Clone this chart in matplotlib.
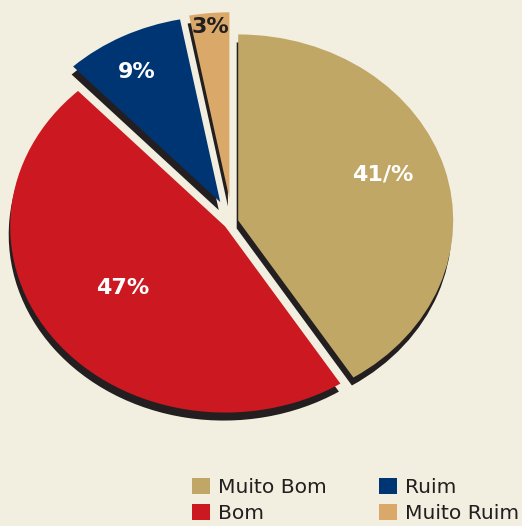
import matplotlib
matplotlib.use("Agg")
import matplotlib.pyplot as plt
import numpy as np

# Survey answers
categories = ["Muito Bom", "Bom", "Ruim", "Muito Ruim"]
shares = [41, 47, 9, 3]
value_labels = ["41/%", "47%", "9%", "3%"]

colors = ["#C1A766", "#CC1820", "#003574", "#DAA96A"]
label_colors = ["white", "white", "white", "#231F20"]
explode = [0.03, 0.04, 0.12, 0.128]
# where each value label sits inside its wedge
label_radius = [0.717, 0.578, 0.80, 0.925]
label_frac = [0.526, 0.482, 0.56, 0.5]

bg = "#F3EFE0"
shadow = "#231F20"

W, H = 522, 526
fig = plt.figure(figsize=(W / 100, H / 100), dpi=100, facecolor=bg)
ax = fig.add_axes([0, 0, 1, 1])
ax.set_facecolor(bg)

# pie centre and radii in pixels (slightly flattened ellipse)
cx, cy = 232, 222
rx, ry = 215, 186

# dark drop shadow: same pie shifted down / left
sdx, sdy = -1.5 / rx, -8 / ry
ax.pie(shares, colors=[shadow] * len(shares), explode=explode, startangle=90,
       counterclock=False, center=(sdx, sdy), wedgeprops=dict(linewidth=0))

wedges, _ = ax.pie(shares, colors=colors, explode=explode, startangle=90,
                   counterclock=False, wedgeprops=dict(linewidth=0))

for w, txt, r, f, c in zip(wedges, value_labels, label_radius, label_frac,
                           label_colors):
    ang = np.deg2rad(w.theta1 + f * (w.theta2 - w.theta1))
    x0, y0 = w.center
    ax.text(x0 + r * np.cos(ang), y0 + r * np.sin(ang), txt, color=c,
            fontsize=16, fontweight="bold", ha="center", va="center",
            family="DejaVu Sans")

ax.set_aspect("auto")
ax.set_xlim((0 - cx) / rx, (W - cx) / rx)
ax.set_ylim((cy - H) / ry, cy / ry)
ax.axis("off")

leg = fig.legend(wedges, categories, ncol=2, frameon=False,
                 loc="upper left", bbox_to_anchor=(192 / W, 1 - 478 / H),
                 fontsize=14.6, handlelength=0.9, handleheight=0.85,
                 handletextpad=0.4, columnspacing=2.55, labelspacing=0.35,
                 borderpad=0, borderaxespad=0)
for t in leg.get_texts():
    t.set_color("#231F20")

fig.savefig("out.png", dpi=100, facecolor=bg)
